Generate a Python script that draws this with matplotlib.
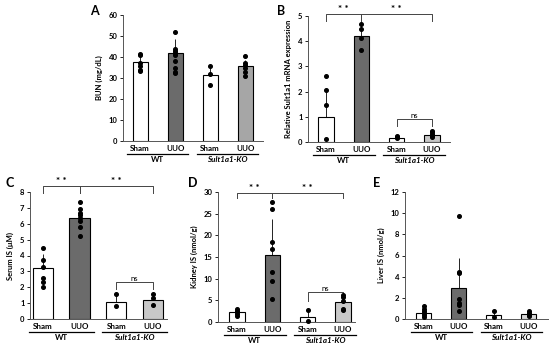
import numpy as np
import matplotlib
matplotlib.use("Agg")
from matplotlib import pyplot as plt
from matplotlib.transforms import offset_copy

plt.rcParams['font.family'] = ['Lato', 'DejaVu Sans']
plt.rcParams['font.weight'] = 'bold'

groups = ["Sham", "UUO", "Sham", "UUO"]
genotypes = ["WT", "Sult1a1-KO"]

# A: BUN (mg/dL)
bun_mean = [37.8, 41.7, 31.3, 35.5]
bun_sd = [3.4, 6.8, 4.0, 3.3]
bun_pts = [[41.5, 40.8, 37.0, 35.5, 34.0, 33.5],
           [52.0, 44.0, 43.0, 42.0, 41.0, 38.0, 35.0, 33.0, 32.5],
           [35.5, 32.0, 26.5],
           [40.5, 37.0, 36.0, 35.0, 33.0, 31.0]]

# B: relative Sult1a1 mRNA
mrna_mean = [1.0, 4.2, 0.17, 0.28]
mrna_sd = [1.05, 0.45, 0.04, 0.1]
mrna_pts = [[2.6, 2.05, 1.47, 0.13],
            [4.68, 4.5, 4.12, 3.65],
            [0.22, 0.18, 0.15],
            [0.42, 0.38, 0.3, 0.25, 0.2]]

# C: serum IS (uM)
serum_mean = [3.2, 6.35, 1.1, 1.22]
serum_sd = [0.9, 0.65, 0.45, 0.33]
serum_pts = [[4.5, 3.7, 3.3, 2.6, 2.3, 2.0],
             [7.4, 6.9, 6.7, 6.55, 6.35, 6.2, 5.8, 5.2],
             [1.6, 0.85],
             [1.6, 1.3, 0.9]]

# D: kidney IS (nmol/g)
kidney_mean = [2.2, 15.5, 1.2, 4.6]
kidney_sd = [0.6, 8.2, 1.3, 1.4]
kidney_pts = [[3.0, 2.6, 2.2, 1.8, 1.5],
              [27.8, 26.0, 18.5, 16.8, 11.6, 9.4, 5.3],
              [2.7, 0.3],
              [6.2, 5.7, 4.8, 3.0, 2.7]]

# E: liver IS (nmol/g)
liver_mean = [0.6, 2.95, 0.35, 0.45]
liver_sd = [0.4, 2.85, 0.35, 0.25]
liver_pts = [[1.25, 0.95, 0.8, 0.6, 0.4, 0.2],
             [9.7, 4.45, 4.35, 1.85, 1.5, 1.3, 0.8],
             [0.8, 0.15],
             [0.75, 0.6, 0.5, 0.35, 0.3]]

W, H = 550, 346
fig = plt.figure(figsize=(W / 100, H / 100), dpi=100)


def px_axes(x0, x1, y_top, y_bot):
    return fig.add_axes([x0 / W, 1 - y_bot / H, (x1 - x0) / W, (y_bot - y_top) / H])


def panel(ax, means, sds, pts, ylim, yticks, ylabel, xlim, width, ko_color, brackets=None):
    x = np.arange(4)
    colors = ['white', '#6b6b6b', 'white', ko_color]
    ax.bar(x, means, width=width, color=colors, edgecolor='black', linewidth=0.8, zorder=2)
    ax.vlines(x, means, np.array(means) + np.array(sds), color='black', linewidth=0.6, zorder=1)
    for i, p in enumerate(pts):
        ax.plot([i] * len(p), p, 'o', color='black', markersize=2.6, zorder=3, clip_on=False)
    ax.set_xlim(*xlim)
    ax.set_ylim(*ylim)
    ax.set_yticks(yticks)
    ax.set_xticks([])
    ax.tick_params(axis='y', labelsize=5.5, length=2, width=0.6, pad=2)
    for t in ax.get_yticklabels():
        t.set_fontweight('bold')
    ax.set_ylabel(ylabel, fontsize=5.5, fontweight='bold', labelpad=4)
    for s in ['top', 'right']:
        ax.spines[s].set_visible(False)
    for s in ['left', 'bottom']:
        ax.spines[s].set_color('#555555')
        ax.spines[s].set_linewidth(0.7)

    tr = ax.get_xaxis_transform()
    for i, g in enumerate(groups):
        ax.annotate(g, (i, 0), xycoords=tr, xytext=(0, -5.5), textcoords='offset points',
                    ha='center', va='center', fontsize=5.8, fontweight='bold')
    for j, gname in enumerate(genotypes):
        a, b = 2 * j, 2 * j + 1
        ax.plot([a - 0.38, b + 0.38], [0, 0], color='black', linewidth=0.9, clip_on=False,
                transform=offset_copy(tr, fig=fig, x=0, y=-9.5, units='points'))
        style = 'italic' if j == 1 else 'normal'
        ax.annotate(gname, ((a + b) / 2, 0), xycoords=tr, xytext=(0, -13.3), textcoords='offset points',
                    ha='center', va='center', fontsize=5.8, fontweight='bold', fontstyle=style)

    if brackets:
        for (a, b, y, drop, label) in brackets:
            ax.plot([a, a, b, b], [y - drop, y, y, y - drop], color='#444444', linewidth=0.7,
                    clip_on=False)
            if label == 'ns':
                ax.text((a + b) / 2, y, label, ha='center', va='bottom', fontsize=5.5,
                        fontweight='normal', clip_on=False)
            else:
                ax.text((a + b) / 2, y, label, ha='center', va='bottom', fontsize=7,
                        fontweight='bold', clip_on=False)
    return ax


# panel A
axA = px_axes(123, 263, 15, 141)
panel(axA, bun_mean, bun_sd, bun_pts, (0, 60), range(0, 61, 10), 'BUN (mg/dL)',
      (-0.49, 3.51), 0.43, '#a6a6a6')
fig.text(90 / W, 1 - 11 / H, 'A', fontsize=9, fontweight='bold', va='center')

# panel B
axB = px_axes(308, 450, 16, 142)
panel(axB, mrna_mean, mrna_sd, mrna_pts, (0, 5), range(0, 6), 'Relative Sult1a1 mRNA expression',
      (-0.51, 3.51), 0.43, '#c8c8c8',
      brackets=[(0, 1, 5.07, 0.25, '* *'), (1, 3, 5.07, 0.25, '* *'), (2, 3, 0.93, 0.3, 'ns')])
fig.text(277 / W, 1 - 11 / H, 'B', fontsize=9, fontweight='bold', va='center')

# panel C
axC = px_axes(30, 167, 192, 319)
panel(axC, serum_mean, serum_sd, serum_pts, (0, 8), range(0, 9), 'Serum IS (\u03bcM)',
      (-0.35, 3.38), 0.55, '#c8c8c8',
      brackets=[(0, 1, 8.37, 0.45, '* *'), (1, 3, 8.37, 0.45, '* *'), (2, 3, 2.36, 0.5, 'ns')])
fig.text(5 / W, 1 - 183 / H, 'C', fontsize=9, fontweight='bold', va='center')

# panel D
axD = px_axes(218, 355, 192, 322)
panel(axD, kidney_mean, kidney_sd, kidney_pts, (0, 30), range(0, 31, 5), 'Kidney IS (nmol/g)',
      (-0.54, 3.34), 0.43, '#c8c8c8',
      brackets=[(0, 1, 29.8, 1.2, '* *'), (1, 3, 29.8, 1.2, '* *'), (2, 3, 6.9, 2.0, 'ns')])
fig.text(188 / W, 1 - 183 / H, 'D', fontsize=9, fontweight='bold', va='center')

# panel E
axE = px_axes(405, 548, 192, 319)
panel(axE, liver_mean, liver_sd, liver_pts, (0, 12), range(0, 13, 2), 'Liver IS (nmol/g)',
      (-0.54, 3.55), 0.43, '#d9d9d9')
fig.text(373 / W, 1 - 183 / H, 'E', fontsize=9, fontweight='bold', va='center')

fig.savefig('out.png', dpi=100)
